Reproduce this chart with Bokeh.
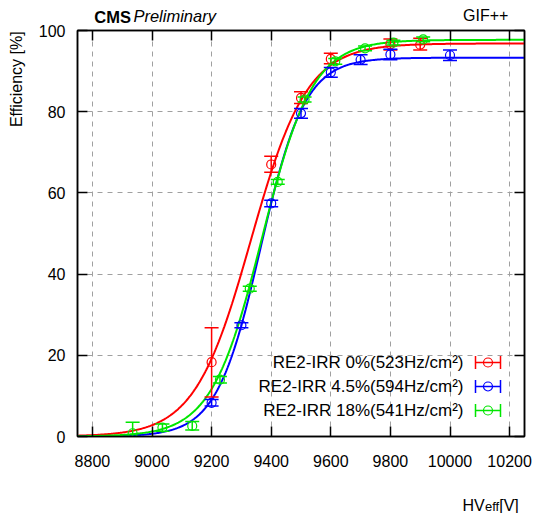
import numpy as np
from bokeh.plotting import figure
from bokeh.models import (Range1d, LinearAxis, FixedTicker, Label, Arrow, BoxAnnotation)
from bokeh.embed import file_html
from bokeh.resources import INLINE

# ---------------- data ----------------
x_ticks = [8800, 9000, 9200, 9400, 9600, 9800, 10000, 10200]
y_ticks = [0, 20, 40, 60, 80, 100]

red_hv = [9200, 9400, 9500, 9600, 9800, 9900]
red_eff = [18.3, 67.0, 83.4, 93.0, 96.6, 96.5]
red_lo = [9.7, 65.1, 82.0, 91.8, 95.2, 95.2]
red_hi = [26.8, 69.0, 84.9, 94.4, 97.9, 98.1]

blue_hv = [9200, 9300, 9400, 9500, 9600, 9700, 9800, 10000]
blue_eff = [8.3, 27.4, 57.4, 79.6, 89.7, 92.8, 94.1, 93.9]
blue_lo = [7.5, 26.8, 56.6, 78.4, 88.5, 91.6, 92.8, 92.6]
blue_hi = [9.1, 28.0, 58.2, 80.8, 90.9, 94.0, 95.4, 95.2]

green_hv = [8935, 9035, 9135, 9228, 9328, 9422, 9512, 9615, 9715, 9810, 9910]
green_eff = [0.8, 2.2, 2.6, 14.0, 36.4, 62.7, 83.0, 92.4, 95.6, 97.0, 97.8]
green_lo = [0.0, 1.3, 1.6, 13.2, 35.8, 62.1, 82.4, 91.7, 95.0, 96.4, 97.2]
green_hi = [3.5, 3.1, 3.7, 14.8, 37.0, 63.3, 83.6, 93.1, 96.2, 97.6, 98.4]

# sigmoid fit parameters: Emax, lambda, HV50
red_fit = [96.8, 0.0106, 9332]
blue_fit = [93.3, 0.0135, 9365]
green_fit = [97.7, 0.0118, 9369]

legend_texts = ["RE2-IRR 0%(523Hz/cm\u00b2)",
                "RE2-IRR 4.5%(594Hz/cm\u00b2)",
                "RE2-IRR 18%(541Hz/cm\u00b2)"]

RED, BLUE, GREEN = "#ff0000", "#0000ff", "#00e600"
FONT = "Liberation Sans"

# ---------------- figure ----------------
L, R, T, B = 77, 10, 30, 77
W, H = 534, 513
p = figure(width=W, height=H, x_range=Range1d(8750, 10250), y_range=Range1d(0, 100),
           output_backend="svg", toolbar_location=None, title_location=None,
           min_border_left=L, min_border_right=R, min_border_top=T, min_border_bottom=B)
p.background_fill_color = "white"
p.border_fill_color = "white"
p.outline_line_color = "black"
p.outline_line_width = 1.5

for ax in (p.xaxis[0], p.yaxis[0]):
    ax.major_tick_in = 10
    ax.major_tick_out = 0
    ax.minor_tick_in = 0
    ax.minor_tick_out = 0
    ax.major_tick_line_width = 1.5
    ax.major_tick_line_color = "black"
    ax.axis_line_color = "black"
    ax.axis_line_width = 1.5
    ax.major_label_text_font = FONT
    ax.major_label_text_font_size = "16px"
    ax.major_label_text_color = "black"
p.xaxis[0].ticker = FixedTicker(ticks=x_ticks)
p.yaxis[0].ticker = FixedTicker(ticks=y_ticks)
p.xaxis[0].major_label_standoff = 18
p.yaxis[0].major_label_standoff = 12

# mirrored tick marks on top and right (no labels)
for side, ticks in (("above", x_ticks), ("right", y_ticks)):
    ax = LinearAxis(ticker=FixedTicker(ticks=ticks, minor_ticks=[]),
                    major_tick_in=10, major_tick_out=0, minor_tick_in=0, minor_tick_out=0,
                    major_tick_line_width=1.5, axis_line_width=1.5,
                    major_label_text_color=None, major_label_standoff=0)
    p.add_layout(ax, side)


# text-only axes (labels outside the frame)
def text_axis(side, ticks, labels, size, style, standoff, orientation="horizontal"):
    ax = LinearAxis(ticker=FixedTicker(ticks=ticks, minor_ticks=[]),
                    major_label_overrides=dict(zip(ticks, labels)),
                    major_tick_in=0, major_tick_out=0, minor_tick_in=0, minor_tick_out=0,
                    major_tick_line_color=None, minor_tick_line_color=None,
                    axis_line_color=None, major_label_standoff=standoff,
                    major_label_orientation=orientation,
                    major_label_text_font=FONT, major_label_text_font_size=size,
                    major_label_text_font_style=style, major_label_text_color="black")
    p.add_layout(ax, side)


# centres of the header / axis-title pieces, in axis units
text_axis("above", [8868], ["CMS"], "16.5px", "bold", 5)
text_axis("above", [9076], ["Preliminary"], "16.5px", "italic", -20)
text_axis("above", [10120], ["GIF++"], "16px", "normal", -20)
# x-axis title HV_eff[V], hung from the top panel so it takes no room below
text_axis("above", [10079, 10198], ["HV", "[V]"], "16px", "normal", -510)
text_axis("above", [10141], ["eff"], "13px", "normal", -510)
text_axis("left", [88], ["Efficiency [%]"], "16px", "normal", 10, "vertical")

p.xgrid.ticker = FixedTicker(ticks=x_ticks)
p.ygrid.ticker = FixedTicker(ticks=y_ticks)
for g in (p.xgrid[0], p.ygrid[0]):
    g.grid_line_color = "#a0a0a0"
    g.grid_line_dash = "5 5"
    g.grid_line_width = 1

# ---------------- fits ----------------
hv_curve = np.linspace(8750, 10250, 400)
for fit, col in ((red_fit, RED), (blue_fit, BLUE), (green_fit, GREEN)):
    emax, lam, hv50 = fit
    eff_curve = emax / (1 + np.exp(-lam * (hv_curve - hv50)))
    p.line(hv_curve, eff_curve, line_color=col, line_width=2)

# ---------------- data points with error bars ----------------
for hv, eff, lo, hi, col in ((red_hv, red_eff, red_lo, red_hi, RED),
                             (blue_hv, blue_eff, blue_lo, blue_hi, BLUE),
                             (green_hv, green_eff, green_lo, green_hi, GREEN)):
    p.segment(hv, lo, hv, hi, line_color=col, line_width=1.5)
    p.scatter(hv, lo, marker="dash", size=14, line_color=col, line_width=1.5)
    p.scatter(hv, hi, marker="dash", size=14, line_color=col, line_width=1.5)
    p.scatter(hv, eff, marker="circle", size=9, fill_color=None, line_color=col, line_width=1.2)

# ---------------- legend (inside the frame) ----------------
FB = H - B  # frame bottom in canvas pixels


def sx(cx):
    return cx - L


def sy(cy):
    return FB - cy


rows = [362, 386, 410]
for txt, col, cy in zip(legend_texts, (RED, BLUE, GREEN), rows):
    p.add_layout(Label(x=sx(463), y=sy(cy), x_units="screen", y_units="screen", text=txt,
                       text_font=FONT, text_font_size="17px", text_align="right",
                       text_baseline="middle", text_color="black"))
    p.add_layout(Arrow(x_start=sx(475), y_start=sy(cy), x_end=sx(500), y_end=sy(cy),
                       start_units="screen", end_units="screen", start=None, end=None,
                       line_color=col, line_width=1.5))
    for cx in (475, 500):
        p.add_layout(Arrow(x_start=sx(cx), y_start=sy(cy - 6.5), x_end=sx(cx), y_end=sy(cy + 6.5),
                           start_units="screen", end_units="screen", start=None, end=None,
                           line_color=col, line_width=1.5))
    p.add_layout(BoxAnnotation(left=sx(483), right=sx(492), top=sy(cy - 4.5), bottom=sy(cy + 4.5),
                               left_units="screen", right_units="screen",
                               top_units="screen", bottom_units="screen",
                               border_radius=5, fill_alpha=0, line_color=col, line_width=1.2,
                               line_alpha=1.0))

open("out.html", "w").write(file_html(p, INLINE))
